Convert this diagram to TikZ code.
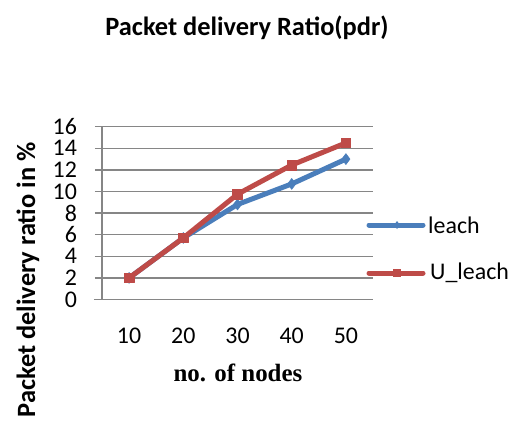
\documentclass[tikz,border=0pt]{standalone}
\usepackage{fontspec}
\setmainfont{Carlito}
\newfontfamily\timesfont{Liberation Serif}
\usetikzlibrary{plotmarks}
\definecolor{sblue}{HTML}{4A7EBB}
\definecolor{sred}{HTML}{BE4B48}
\definecolor{gridgray}{HTML}{868686}
\tikzset{
  grid line/.style={gridgray, line width=1.4bp},
  blueser/.style={sblue, line width=5bp, line join=round, line cap=round},
  redser/.style={sred, line width=5bp, line join=round, line cap=round},
  ticklab/.style={font=\fontsize{24}{24}\selectfont, inner sep=0pt},
  leglab/.style={font=\fontsize{24}{24}\selectfont, inner sep=0pt, anchor=west},
  titlelab/.style={font=\fontsize{26.5}{26.5}\selectfont\bfseries, inner sep=0pt},
  xtitle/.style={font=\fontsize{25}{25}\selectfont\timesfont\bfseries, inner sep=0pt}
}
\begin{document}
\begin{tikzpicture}[x=1bp,y=1bp]
\useasboundingbox (0,0) rectangle (523,428);
\fill[white] (0,0) rectangle (523,428);
% title
\node[titlelab] (title) at (247,400) {Packet delivery Ratio(pdr)};
% axis titles
\node[titlelab, rotate=90] (ytitle) at (28,148) {Packet delivery ratio in \%};
\node[xtitle] (xtitle) at (238,55) {no. of nodes};
\begin{scope}[shift={(102bp,128.5bp)}, x=54.2bp, y=10.8bp]
  \foreach \v in {2,4,...,16} {
    \draw[grid line] (-0.13,\v) -- (5,\v);
  }
  \foreach \v in {0,2,...,16} {
    \node[ticklab, anchor=east] (yl\v) at (-0.46,\v) {\v};
  }
  \draw[grid line] (0,0) -- (0,16);
  \draw[grid line] (-0.15,0) -- (5,0);
  \foreach \i/\n in {1/10,2/20,3/30,4/40,5/50} {
    \node[ticklab] (xl\n) at (\i-0.5,-3.35) {\n};
  }
  \draw[blueser] plot[mark=diamond*, mark size=5.5bp, mark options={solid, line width=0.5bp}] coordinates {(0.5,2) (1.5,5.7) (2.5,8.8) (3.5,10.7) (4.5,13.0)};
  \draw[redser] plot[mark=square*, mark size=4.8bp, mark options={solid, line width=0.5bp}] coordinates {(0.5,2) (1.5,5.7) (2.5,9.75) (3.5,12.45) (4.5,14.5)};
\end{scope}
% legend
\coordinate (l1a) at (369,203);
\coordinate (l1b) at (423,203);
\coordinate (l2a) at (369,155);
\coordinate (l2b) at (423,155);
\draw[blueser] (l1a) -- (l1b);
\draw[redser] (l2a) -- (l2b);
\fill[sblue] (397,207) -- (400,203) -- (397,199) -- (394,203) -- cycle;
\fill[sred] (393,151) rectangle (401,159);
\node[leglab] (leg1) at (428,203) {leach};
\node[leglab] (leg2) at (430,155) {U\_leach};
\end{tikzpicture}
\end{document}
